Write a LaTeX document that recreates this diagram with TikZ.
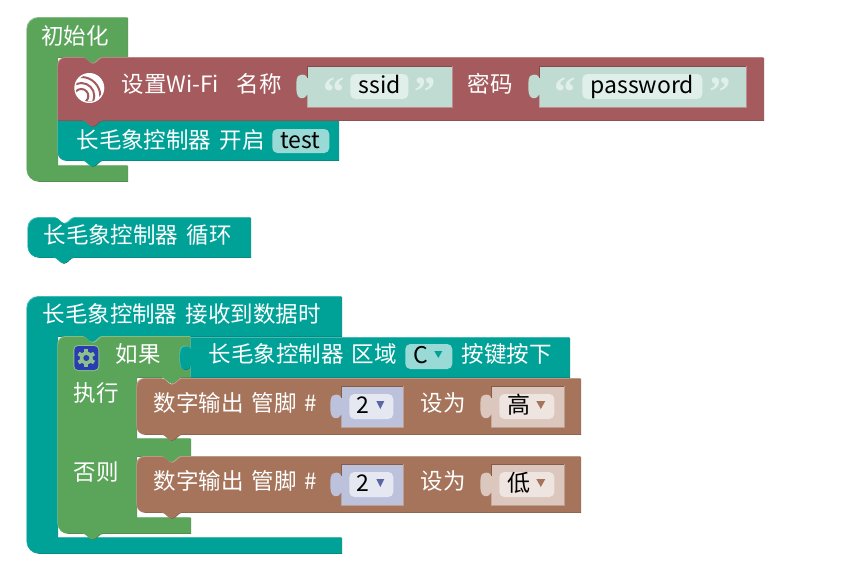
\documentclass[tikz,border=0pt]{standalone}
\usepackage{fontspec}
\setmainfont{Noto Sans CJK SC}
\newfontfamily\quotefont{Liberation Serif}
\definecolor{wifi}{HTML}{A55B5D}\definecolor{wifilt}{HTML}{C08C8D}\definecolor{wifidk}{HTML}{84494A}
\definecolor{ctrl}{HTML}{00A298}\definecolor{ctrllt}{HTML}{4DBEB7}\definecolor{ctrldk}{HTML}{00827A}
\definecolor{logic}{HTML}{5BA55B}\definecolor{logiclt}{HTML}{8CC08C}\definecolor{logicdk}{HTML}{498449}
\definecolor{gpio}{HTML}{A5745B}\definecolor{gpiolt}{HTML}{C09E8C}\definecolor{gpiodk}{HTML}{845D49}
\definecolor{strslot}{HTML}{BFDBD2}\definecolor{strpill}{HTML}{E1EFEB}
\definecolor{numslot}{HTML}{BDC2DC}\definecolor{numpill}{HTML}{E5E7F1}\definecolor{numtri}{HTML}{5B67A5}
\definecolor{lvlslot}{HTML}{DBC7BD}\definecolor{lvlpill}{HTML}{EFE5E0}
\definecolor{ctrlpill}{HTML}{99DAD6}\definecolor{gearblue}{HTML}{2A3DB0}
\tikzset{
  lbl/.style={text=white,inner sep=0pt,anchor=base west,font=\fontsize{22.5}{25}\selectfont},
  val/.style={lbl,text=black,font=\fontsize{23}{25}\selectfont},
  quo/.style={lbl,text=strpill,font=\quotefont\bfseries\fontsize{43}{43}\selectfont},
  pill/.style={rounded corners=5pt}
}
\newcommand{\wordgap}{\hspace{3pt} }
% notch in a top or bottom edge, 20 wide and 6 deep
\newcommand{\notchR}[2]{-- (#1,#2) .. controls (#1+4,#2) and (#1+6,#2+6) .. (#1+10,#2+6) .. controls (#1+14,#2+6) and (#1+16,#2) .. (#1+20,#2)}
\newcommand{\notchL}[2]{-- (#1+20,#2) .. controls (#1+16,#2) and (#1+14,#2+6) .. (#1+10,#2+6) .. controls (#1+6,#2+6) and (#1+4,#2) .. (#1,#2)}
% puzzle tab on a left edge, run upwards
\newcommand{\plug}[2]{-- (#1,#2+28) .. controls (#1-1,#2+31) and (#1-4,#2+33) .. (#1-7,#2+32) .. controls (#1-11,#2+31) and (#1-11,#2+24) .. (#1-11,#2+20) .. controls (#1-11,#2+16) and (#1-11,#2+9) .. (#1-7,#2+9) .. controls (#1-4,#2+8) and (#1-1,#2+9) .. (#1,#2+12)}
\newcommand{\blockbody}[2]{
  \fill[#1dk,shift={(.8,.8)}] #2;
  \fill[#1lt] #2;
  \begin{scope}\clip #2;\fill[#1,shift={(.8,.8)}] #2;\end{scope}}
\newcommand{\slotbox}[5]{
  \fill[#4] (#1,#3) -- (#2,#3) -- (#2,#3+41) -- (#1,#3+41) \plug{#1}{#3} -- cycle;
  \draw[#5dk,line width=.8pt] (#1,#3+12) -- (#1,#3) -- (#2,#3);
  \draw[#5lt,line width=.8pt] (#2,#3) -- (#2,#3+41) -- (#1,#3+41);}
\newcommand{\pinblock}[3]{
  \blockbody{gpio}{(137,#1+22) [rounded corners=8pt] -- (137,#1) [sharp corners] \notchR{162}{#1} -- (581,#1) -- (581,#1+56) \notchL{162}{#1+56} [rounded corners=8pt] -- (137,#1+56) [sharp corners] -- cycle}
  \node[lbl] (#2out) at (154,#1+33) {数字输出\wordgap 管脚\wordgap \#};
  \slotbox{342}{404}{#1+8}{numslot}{gpio}
  \fill[numpill,pill] (350,#1+16) rectangle (394,#1+41);
  \node[val] (#2num) at (357,#1+35) {2};
  \fill[numtri] (377,#1+23) -- (385,#1+23) -- (381,#1+31) -- cycle;
  \node[lbl] (#2set) at (421,#1+33) {设为};
  \slotbox{492}{565}{#1+8}{lvlslot}{gpio}
  \fill[lvlpill,pill] (500,#1+16) rectangle (555,#1+41);
  \node[val] (#2lvl) at (508,#1+35) {#3};
  \fill[gpio] (537,#1+23) -- (546,#1+23) -- (541.5,#1+31) -- cycle;}
\begin{document}
\begin{tikzpicture}[x=1pt,y=-1pt]
  \useasboundingbox (0,0) rectangle (863,581);
  \begin{scope}[xshift=-.7pt]
  % setup hat
  \blockbody{logic}{(128,57) -- (128,17) [rounded corners=12pt] -- (27,17) -- (27,181) [sharp corners] -- (128,181) -- (128,165) -- (58,165) -- (58,57) \notchR{83}{57} -- cycle}
  \node[lbl] (inittxt) at (42,44) {初始化};
  \blockbody{ctrl}{(58,120) -- (339,120) -- (339,160) \notchL{83}{160} [rounded corners=8pt] -- (58,160) [sharp corners] -- cycle}
  \blockbody{wifi}{(58,90) [rounded corners=8pt] -- (58,57) [sharp corners] \notchR{83}{57} -- (764,57) -- (764,120) \notchL{83}{120} -- (58,120) -- cycle}
  % logo
  \fill[white] (90,88) circle (15);
  \begin{scope}\clip (90,88) circle (13.5);
    \draw[wifi,line width=2pt] (82,96) circle (7);
    \draw[wifi,line width=2pt] (82,96) circle (13);
    \draw[wifi,line width=2pt] (82,96) circle (19);
    \fill[wifi] (76,104) rectangle (104,101);
    \fill[white] (83,95) circle (2.5);
  \end{scope}
  \node[lbl] (wifitxt) at (122,92) {设置Wi-Fi};
  \node[lbl] (ssidtxt) at (237,92) {名称};
  \slotbox{308}{453}{66}{strslot}{wifi}
  \node[quo] (ssidl) at (324,106) {“};
  \fill[strpill,pill] (351,74) rectangle (409,99);
  \node[val] (ssid) at (359,93) {ssid};
  \node[quo] (ssidr) at (415,106) {”};
  \node[lbl] (pwdtxt) at (468,92) {密码};
  \slotbox{540}{747}{66}{strslot}{wifi}
  \node[quo] (pwdl) at (555,106) {“};
  \fill[strpill,pill] (583,74) rectangle (703,99);
  \node[val] (pwd) at (591,93) {password};
  \node[quo] (pwdr) at (710,106) {”};
  \node[lbl] (starttxt) at (77,148) {长毛象控制器\wordgap 开启};
  \fill[ctrlpill,pill] (273,129) rectangle (330,153);
  \node[val] (test) at (281,148) {test};
  % loop hat
  \blockbody{ctrl}{(28,240) [rounded corners=11pt] -- (28,217) [sharp corners] \notchR{55}{217} -- (251,217) -- (251,257) \notchL{54}{257} [rounded corners=11pt] -- (28,257) [sharp corners] -- cycle}
  \node[lbl] (looptxt) at (44,243) {长毛象控制器\wordgap 循环};
  % receive hat
  \blockbody{ctrl}{(342,336) -- (342,296) [rounded corners=12pt] -- (27,296) -- (27,553) [sharp corners] -- (342,553) -- (342,537) -- (58,537) -- (58,336) \notchR{83}{336} -- cycle}
  \node[lbl] (recvtxt) at (43,322) {长毛象控制器\wordgap 接收到数据时};
  \blockbody{logic}{(58,360) [rounded corners=8pt] -- (58,336) [sharp corners] \notchR{83}{336} -- (191,336) -- (191,377) \notchL{162}{377} -- (137,377) -- (137,438) -- (191,438) -- (191,456) \notchL{162}{456} -- (137,456) -- (137,517) -- (191,517) -- (191,533) \notchL{83}{533} [rounded corners=10pt] -- (58,533) [sharp corners] -- cycle}
  % gear
  \fill[logiclt,rounded corners=5pt] (74,345) rectangle (100,371);
  \fill[gearblue,rounded corners=4pt] (75,346) rectangle (99,370);
  \foreach \ang in {0,60,...,300}
    \fill[logiclt,shift={(87,358)},rotate=\ang] (-2,-9) rectangle (2,0);
  \fill[logiclt] (87,358) circle (6.5);
  \fill[gearblue] (87,358) circle (3);
  \node[lbl] (iftxt) at (116,362) {如果};
  \node[lbl] (dotxt) at (74,401) {执行};
  \node[lbl] (elsetxt) at (74,480) {否则};
  \blockbody{ctrl}{(191,337) -- (570,337) -- (570,377) -- (191,377) \plug{191}{337} -- cycle}
  \node[lbl] (areatxt) at (209,362) {长毛象控制器\wordgap 区域};
  \fill[ctrlpill,pill] (406,344) rectangle (453,369);
  \node[val] (areac) at (414,363) {C};
  \fill[ctrl] (435,351) -- (443,351) -- (439,358) -- cycle;
  \node[lbl] (presstxt) at (462,362) {按键按下};
  \pinblock{378}{hi}{高}
  \pinblock{456}{lo}{低}
  \end{scope}
\end{tikzpicture}
\end{document}
